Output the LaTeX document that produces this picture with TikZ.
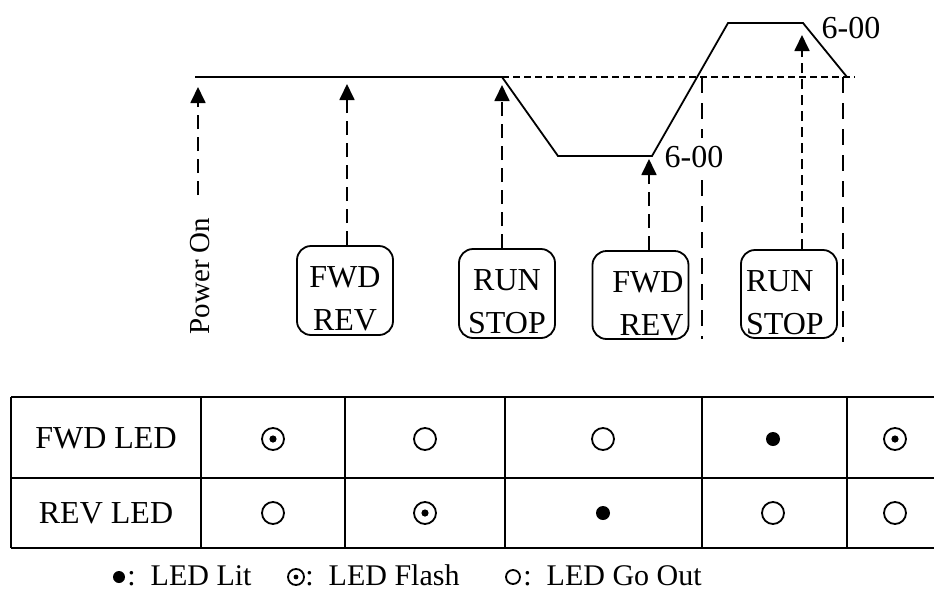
\documentclass[tikz,border=0pt]{standalone}
\usepackage{fontspec}
\setmainfont{Liberation Serif}
\usetikzlibrary{arrows.meta,positioning}
\newcommand{\kt}{\rule{0pt}{19pt}}

\begin{document}
\begin{tikzpicture}[x=0.5pt, y=-0.5pt,
  every node/.style={font=\fontsize{16}{21.5}\selectfont},
  prof/.style={line width=0.9pt},
  keybox/.style={draw, line width=0.9pt, rounded corners=7pt, minimum width=48pt,
    minimum height=44.5pt, inner xsep=2.5pt, inner ysep=1pt, text width=43pt},
  trig/.style={line width=0.9pt, dash pattern=on 7pt off 4pt,
    -{Triangle[length=8pt,width=7.5pt]}},
  mark line/.style={line width=0.9pt, dash pattern=on 8pt off 5pt},
  ledout/.style={circle, draw, line width=0.9pt, minimum size=11pt, inner sep=0pt},
  ledlit/.style={circle, fill, minimum size=7pt, inner sep=0pt},
  ledflash/.style={ledout, path picture={\fill (path picture bounding box.center) circle (1.8pt);}},
  legend/.style={anchor=base west, inner sep=0pt, font=\fontsize{15}{18}\selectfont}]
  \useasboundingbox (0,0) rectangle (934,590);

  % ---- frequency profile ----
  \draw[prof] (195,77) -- (502,77) -- (558,156) -- (652,156)
    -- (728,23) -- (803,23) -- (847,77);
  \draw[line width=0.9pt, dash pattern=on 3.5pt off 2pt] (502,77) -- (855,77);
  \node (dec1) at (694,157) {6-00};
  \node (dec2) at (851,28) {6-00};

  % ---- crossing marks ----
  \coordinate (m1) at (702,77);
  \coordinate (m1c) at (702,138);
  \coordinate (m1d) at (702,180);
  \coordinate (m1b) at (702,339);
  \coordinate (m2) at (843,77);
  \coordinate (m2b) at (843,342);
  \draw[mark line] (m1) -- (m1c);
  \draw[mark line] (m1d) -- (m1b);
  \draw[mark line] (m2) -- (m2b);

  % ---- key presses ----
  \coordinate (t1) at (198,87);
  \coordinate (t2) at (347,84);
  \coordinate (t3) at (502,85);
  \coordinate (t4) at (649,159);
  \coordinate (t5) at (802,35);
  \coordinate (p0) at (198,195);
  \node[rotate=90, font=\fontsize{14.5}{17}\selectfont] (pon) at (200,276) {Power On};
  \node[keybox, align=center] (k1) at (345,290.5) {\kt FWD\\REV};
  \node[keybox, align=center] (k2) at (507,293.5) {\kt RUN\\STOP};
  \node[keybox, align=right, minimum width=47.5pt, minimum height=44pt] (k3) at (640.5,295) {\kt FWD\\REV};
  \node[keybox, align=left, minimum width=47pt, minimum height=44pt] (k4) at (789,294) {\kt RUN\\STOP};

  \draw[trig] (p0) -- (t1);
  \draw[trig] (t2 |- k1.north) -- (t2);
  \draw[trig] (t3 |- k2.north) -- (t3);
  \draw[trig] (t4 |- k3.north) -- (t4);
  \draw[trig, dash pattern=on 5pt off 3pt] (t5 |- k4.north) -- (t5);

  % ---- LED table ----
  \foreach \y in {397,478,548}
    \draw[line width=1pt] (11,\y) -- (934,\y);
  \foreach \x in {11,201,345,505,702,847}
    \draw[line width=1pt] (\x,397) -- (\x,548);
  \node (fwdled) at (106,438) {FWD LED};
  \node (revled) at (106,513) {REV LED};
  \foreach \x/\s [count=\i] in {273/ledflash,425/ledout,603/ledout,773/ledlit,895/ledflash}
    \node[\s] (f\i) at (\x,439) {};
  \foreach \x/\s [count=\i] in {273/ledout,425/ledflash,603/ledlit,773/ledout,895/ledout}
    \node[\s] (r\i) at (\x,513) {};

  % ---- legend ----
  \node[ledlit, minimum size=6pt] (klit) at (119,577) {};
  \node[legend] (tlit) at (127,585) {:\enspace LED Lit};
  \node[ledout, minimum size=8pt, path picture={\fill (path picture bounding box.center) circle (1.2pt);}] (kfl) at (296,577) {};
  \node[legend] (tfl) at (305,585) {:\enspace LED Flash};
  \node[ledout, minimum size=7pt] (kout) at (513,577) {};
  \node[legend] (tout) at (523,585) {:\enspace LED Go Out};
\end{tikzpicture}
\end{document}
